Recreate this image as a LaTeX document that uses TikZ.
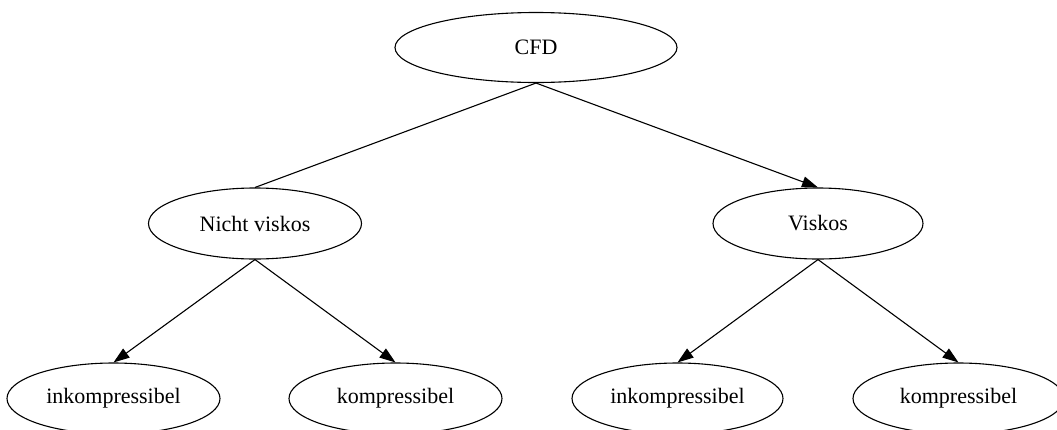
\documentclass[tikz,border=0pt]{standalone}
\usepackage{fontspec}
\setmainfont{Liberation Serif}
\usetikzlibrary{arrows.meta,shapes.geometric}
\begin{document}
\begin{tikzpicture}[x=1pt,y=-1pt,
  nd/.style={draw, ellipse, line width=1.1pt, inner sep=0pt, font=\fontsize{22}{26}\selectfont},
  ed/.style={line width=1.1pt},
  ar/.style={ed, -{Triangle[length=16pt,width=11pt]}}]
\useasboundingbox (0,0) rectangle (1057,429);
\node[nd, minimum width=282pt, minimum height=70pt] (cfd) at (536,47.5) {CFD};
\node[nd, minimum width=213pt, minimum height=71pt] (nv) at (255,223.5) {Nicht viskos};
\node[nd, minimum width=210pt, minimum height=71pt] (v) at (818,223.5) {Viskos};
\node[nd, minimum width=213pt, minimum height=71pt] (ik1) at (113.5,398.5) {inkompressibel};
\node[nd, minimum width=213pt, minimum height=71pt] (k1) at (395.5,398.5) {kompressibel};
\node[nd, minimum width=211pt, minimum height=71pt] (ik2) at (677.5,398.5) {inkompressibel};
\node[nd, minimum width=211pt, minimum height=71pt] (k2) at (958.5,398.5) {kompressibel};
\draw[ed] (cfd.south) -- (nv.north);
\draw[ar] (cfd.south) -- (v.north);
\draw[ar] (nv.south) -- (ik1.north);
\draw[ar] (nv.south) -- (k1.north);
\draw[ar] (v.south) -- (ik2.north);
\draw[ar] (v.south) -- (k2.north);
\end{tikzpicture}
\end{document}
